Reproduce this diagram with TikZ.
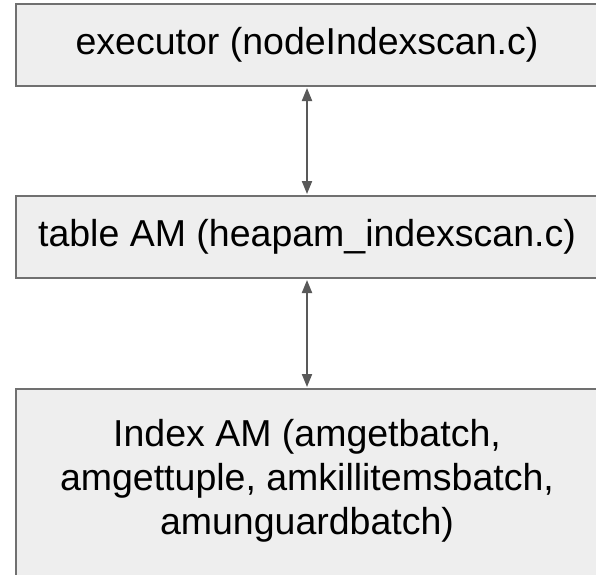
\documentclass[tikz,border=0pt]{standalone}
\usepackage{fontspec}
\setmainfont{Liberation Sans}
\usetikzlibrary{arrows.meta}
\definecolor{boxfill}{HTML}{EEEEEE}
\definecolor{boxline}{HTML}{707070}
\definecolor{arrowc}{HTML}{595959}
\tikzset{
  layer/.style={draw=boxline, fill=boxfill, line width=2pt, rectangle,
    minimum width=582pt, inner sep=0pt, align=center,
    font=\fontsize{37.5}{44}\selectfont},
  label text/.style={inner sep=0pt, align=center,
    font=\fontsize{37.5}{44}\selectfont},
  link/.style={draw=arrowc, line width=2pt,
    {Triangle[width=10pt,length=13pt]}-{Triangle[width=10pt,length=13pt]}, shorten <=1pt, shorten >=1pt}
}
\begin{document}
\begin{tikzpicture}[x=1pt,y=-1pt]
\useasboundingbox (0,0) rectangle (596,574);
\clip (0,0) rectangle (596,574);
\fill[white] (0,0) rectangle (596,574);
\node[layer, minimum height=82pt] (exec) at (307,45) {executor (nodeIndexscan.c)};
\node[layer, minimum height=82pt] (tam) at (307,237) {table AM (heapam\_indexscan.c)};
\node[layer, minimum height=200pt] (iam) at (307,489) {};
\node[label text] (iamtext) at (307,481) {Index AM (amgetbatch,\\amgettuple, amkillitemsbatch,\\amunguardbatch)};
\draw[link] (exec.south) -- (tam.north);
\draw[link] (tam.south) -- (iam.north);
\end{tikzpicture}
\end{document}
